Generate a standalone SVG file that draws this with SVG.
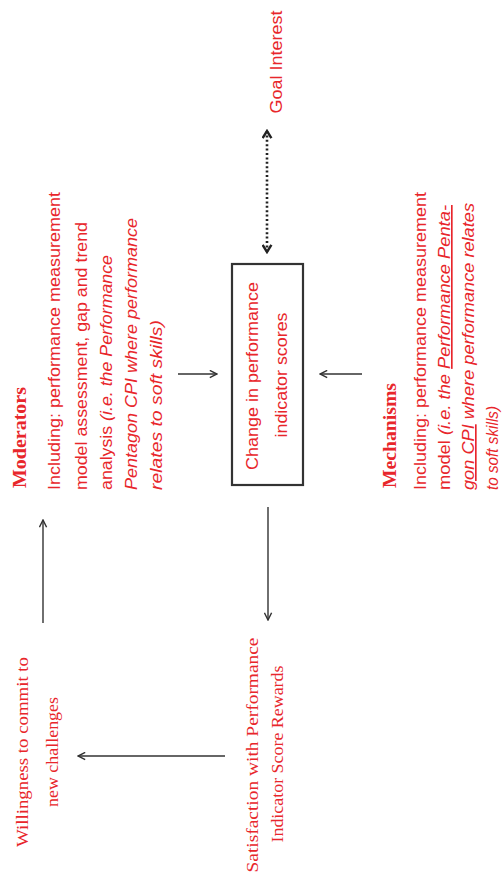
<svg xmlns="http://www.w3.org/2000/svg" width="502" height="877" viewBox="0 0 502 877">
<style>
  text { fill: #e8262b; }
  .hd { font-family: "Liberation Serif", "Times New Roman", serif; font-weight: bold; font-size: 18px; }
  .sn { font-family: "Liberation Sans", Arial, sans-serif; font-size: 16.5px; }
  .sr { font-family: "Liberation Serif", "Times New Roman", serif; font-size: 17.5px; }
  .it { font-style: italic; }
  .ul { text-decoration: underline; }
  .ln { stroke: #333; stroke-width: 1.4; fill: none; }
  .dot { stroke: #222; stroke-width: 2.6; fill: none; stroke-dasharray: 2 2.4; }
  .box { fill: #fff; stroke: #333; stroke-width: 2.2; }
</style>
<defs>
  <marker id="ah" viewBox="0 0 10 10" refX="9" refY="5" markerWidth="9" markerHeight="9" markerUnits="userSpaceOnUse" orient="auto">
    <path d="M1,1 L9,5 L1,9" fill="none" stroke="#333" stroke-width="1.6"/>
  </marker>
  <marker id="ahd" viewBox="0 0 10 10" refX="8" refY="5" markerWidth="11" markerHeight="11" markerUnits="userSpaceOnUse" orient="auto-start-reverse">
    <path d="M1.5,1 L8,5 L1.5,9" fill="none" stroke="#222" stroke-width="2.2"/>
  </marker>
</defs>
<rect width="502" height="877" fill="#fff"/>

<g id="connectors">
  <line class="ln" x1="178" y1="374" x2="217" y2="374" marker-end="url(#ah)"/>
  <line class="ln" x1="362" y1="374" x2="320" y2="374" marker-end="url(#ah)"/>
  <line class="ln" x1="268" y1="507" x2="268" y2="620" marker-end="url(#ah)"/>
  <line class="ln" x1="225" y1="756" x2="78" y2="756" marker-end="url(#ah)"/>
  <line class="ln" x1="43" y1="623" x2="43" y2="520" marker-end="url(#ah)"/>
  <line class="dot" x1="267" y1="131" x2="267" y2="252" marker-start="url(#ahd)" marker-end="url(#ahd)"/>
</g>

<g id="goal-interest">
  <text class="sn" transform="translate(282,62) rotate(-90)" text-anchor="middle" textLength="103" lengthAdjust="spacingAndGlyphs">Goal Interest</text>
</g>

<g id="change-box">
  <rect class="box" x="232" y="264" width="71" height="221"/>
  <text class="sn" transform="translate(258,376) rotate(-90)" text-anchor="middle" font-size="16" textLength="188" lengthAdjust="spacingAndGlyphs">Change in performance</text>
  <text class="sn" transform="translate(287,375) rotate(-90)" text-anchor="middle" font-size="16" textLength="125" lengthAdjust="spacingAndGlyphs">indicator scores</text>
</g>

<g id="moderators">
  <text class="hd" transform="translate(26,488) rotate(-90)" textLength="101" lengthAdjust="spacingAndGlyphs">Moderators</text>
  <text class="sn" transform="translate(60,490) rotate(-90)" textLength="298" lengthAdjust="spacingAndGlyphs">Including: performance measurement</text>
  <text class="sn" transform="translate(87,490) rotate(-90)" textLength="268" lengthAdjust="spacingAndGlyphs">model assessment, gap and trend</text>
  <text class="sn" transform="translate(112,490) rotate(-90)" textLength="235" lengthAdjust="spacingAndGlyphs">analysis <tspan class="it">(i.e. the Performance</tspan></text>
  <text class="sn it" transform="translate(137,490) rotate(-90)" textLength="272" lengthAdjust="spacingAndGlyphs">Pentagon CPI where performance</text>
  <text class="sn it" transform="translate(162,490) rotate(-90)" textLength="170" lengthAdjust="spacingAndGlyphs">relates to soft skills)</text>
</g>

<g id="mechanisms">
  <text class="hd" transform="translate(396,488) rotate(-90)" textLength="105" lengthAdjust="spacingAndGlyphs">Mechanisms</text>
  <text class="sn" transform="translate(426,490) rotate(-90)" textLength="298" lengthAdjust="spacingAndGlyphs">Including: performance measurement</text>
  <text class="sn" transform="translate(450,490) rotate(-90)" textLength="285" lengthAdjust="spacingAndGlyphs">model <tspan class="it">(i.e. the </tspan><tspan class="it ul">Performance Penta-</tspan></text>
  <text class="sn it" transform="translate(474,490) rotate(-90)" textLength="287" lengthAdjust="spacingAndGlyphs"><tspan class="ul">gon CPI</tspan> where performance relates</text>
  <text class="sn it" transform="translate(498,490) rotate(-90)" textLength="84" lengthAdjust="spacingAndGlyphs">to soft skills)</text>
</g>

<g id="satisfaction">
  <text class="sr" transform="translate(258,755) rotate(-90)" text-anchor="middle" textLength="235" lengthAdjust="spacingAndGlyphs">Satisfaction with Performance</text>
  <text class="sr" transform="translate(283,754) rotate(-90)" text-anchor="middle" textLength="177" lengthAdjust="spacingAndGlyphs">Indicator Score Rewards</text>
</g>

<g id="willingness">
  <text class="sr" transform="translate(28,752) rotate(-90)" text-anchor="middle" textLength="190" lengthAdjust="spacingAndGlyphs">Willingness to commit to</text>
  <text class="sr" transform="translate(58,752) rotate(-90)" text-anchor="middle" textLength="110" lengthAdjust="spacingAndGlyphs">new challenges</text>
</g>
</svg>
